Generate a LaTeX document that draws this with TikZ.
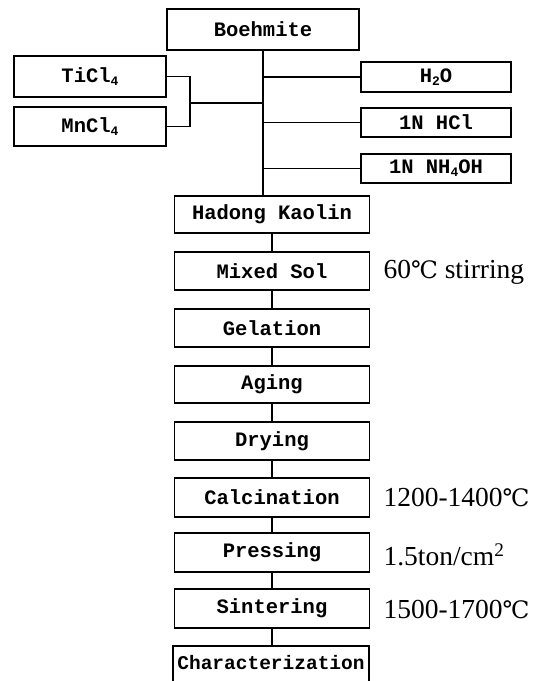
\documentclass[tikz,border=0pt]{standalone}
\usepackage{fontspec}
\setmainfont{Liberation Serif}
\setmonofont{Liberation Mono}
\newfontfamily\degfont{DejaVu Serif}
\newcommand{\mysub}[1]{\raisebox{-3pt}{\fontsize{13}{13}\selectfont #1}}
\newcommand{\degC}{{\degfont\fontsize{24}{24}\selectfont ℃}}
\begin{document}
\begin{tikzpicture}[x=1pt,y=-1pt,line width=1.1pt,
  box/.style={draw,rectangle,inner sep=0pt,minimum width=195pt,
    font=\ttfamily\bfseries\fontsize{20.5}{21}\selectfont},
  sidebox/.style={draw,rectangle,inner sep=0pt,minimum width=152pt,
    font=\ttfamily\bfseries\fontsize{20.5}{21}\selectfont},
  note/.style={anchor=west,inner sep=0pt,font=\fontsize{27.5}{28}\selectfont}]
\useasboundingbox (0,0) rectangle (541,681);
\clip (0,0) rectangle (541,681);
% top part
\node[box,minimum width=192pt,minimum height=41pt] (boeh) at (263,29.5) {Boehmite};
\node[sidebox,minimum height=41pt] (ti) at (90,76.5) {TiCl\mysub{4}};
\node[sidebox,minimum height=39pt] (mn) at (90,126.5) {MnCl\mysub{4}};
\node[sidebox,minimum width=150pt,minimum height=30pt] (h2o) at (436,77) {H\mysub{2}O};
\node[sidebox,minimum width=150pt,minimum height=29pt] (hcl) at (436,122.5) {1N HCl};
\node[sidebox,minimum width=150pt,minimum height=29pt] (nh) at (436,168.5) {1N NH\mysub{4}OH};
% main chain
\node[box,minimum height=37pt] (had) at (272,214.5) {Hadong Kaolin};
\node[box,minimum height=38pt] (mix) at (272,271) {Mixed Sol};
\node[box,minimum height=38pt] (gel) at (272,328) {Gelation};
\node[box,minimum height=37pt] (age) at (272,384.5) {Aging};
\node[box,minimum height=38pt] (dry) at (272,441) {Drying};
\node[box,minimum height=39pt] (cal) at (272,497.5) {Calcination};
\node[box,minimum height=39pt] (pre) at (272,552.5) {Pressing};
\node[box,minimum height=39pt] (sin) at (272,608.5) {Sintering};
\node[box,minimum width=196pt,minimum height=56pt] (cha) at (271,674) {};
\node[font=\ttfamily\bfseries\fontsize{19.5}{20}\selectfont,inner sep=0pt] (chatext) at (271,663) {Characterization};
% notes
\node[note] (n1) at (383,272) {60\degC\ stirring};
\node[note] (n2) at (383,498) {1200-1400\degC};
\node[note] (n3) at (383,555) {1.5ton/cm\textsuperscript{2}};
\node[note] (n4) at (383,610) {1500-1700\degC};
% connectors
\draw (boeh.south) -- (boeh.south |- had.north);
\draw (boeh.south |- h2o.west) -- (h2o.west);
\draw (boeh.south |- hcl.west) -- (hcl.west);
\draw (boeh.south |- nh.west) -- (nh.west);
\coordinate (j) at (190,103);
\draw (ti.east) -| (j) |- (mn.east);
\draw (j) -- (boeh.south |- j);
\draw (had) -- (mix);
\draw (mix) -- (gel);
\draw (gel) -- (age);
\draw (age) -- (dry);
\draw (dry) -- (cal);
\draw (cal) -- (pre);
\draw (pre) -- (sin);
\draw (sin.south) -- (sin.south |- cha.north);
\end{tikzpicture}
\end{document}
